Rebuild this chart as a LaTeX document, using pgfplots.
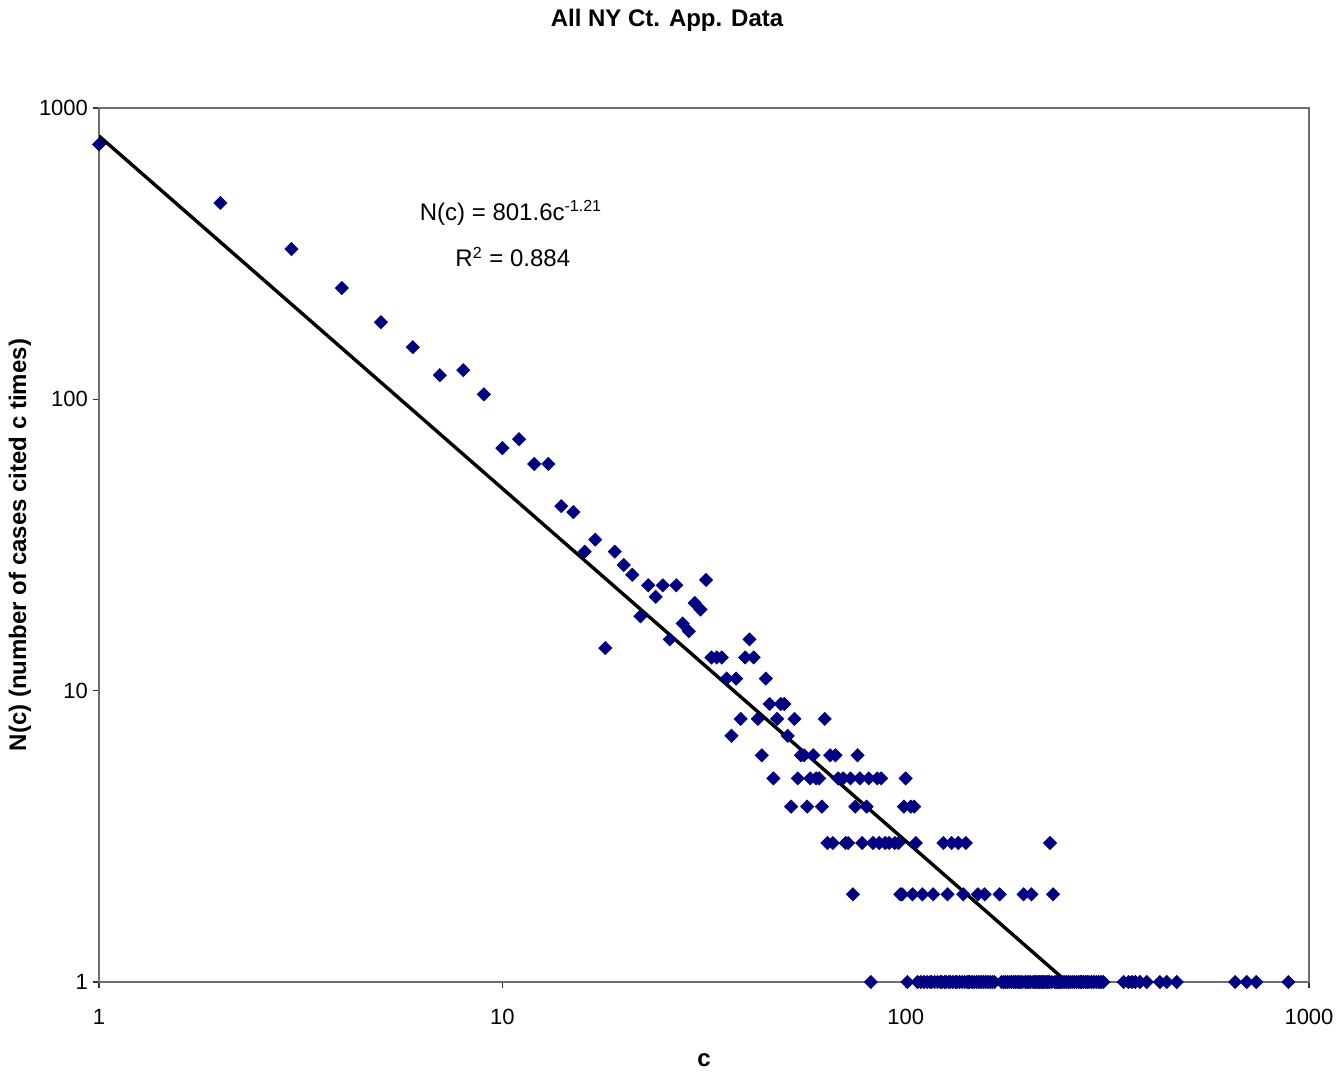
\documentclass[border=0pt]{standalone}
\usepackage{fontspec}
\setmainfont{Liberation Sans}
\usepackage{pgfplots}
\pgfplotsset{compat=1.18}
\definecolor{navy}{RGB}{0,0,128}
\definecolor{axgray}{RGB}{110,110,110}
\begin{document}
\begin{tikzpicture}
\path[use as bounding box] (-49.5pt,-48pt) rectangle (622pt,491pt);
\begin{axis}[
  at={(0,0)}, anchor=south west,
  scale only axis, width=605pt, height=437pt,
  xmode=log, ymode=log,
  xmin=1, xmax=1000, ymin=1, ymax=1000,
  xtick={1,10,100,1000}, xticklabels={1,10,100,1000},
  ytick={1,10,100,1000}, yticklabels={1,10,100,1000},
  xminorticks=false, yminorticks=false,
  xtick pos=bottom, ytick pos=left,
  tick align=outside, major tick length=3pt,
  axis line style={axgray, line width=0.9pt},
  tick style={black!80, line width=0.6pt},
  ticklabel style={font=\fontsize{11}{13}\selectfont},
  xticklabel style={yshift=-7pt},
  yticklabel style={xshift=1pt},
  xlabel={c},
  xlabel style={at={(axis description cs:0.5,-0.089)}, anchor=center, font=\bfseries\fontsize{12}{14}\selectfont},
  ylabel={N(c) (number of cases cited c times)},
  ylabel style={at={(axis description cs:-0.0653,0.5)}, rotate=0, anchor=center, font=\bfseries\fontsize{12}{14}\selectfont},
]
\addplot[only marks, color=navy, mark=square*, mark size=2.3pt, mark options={rotate=45, fill=navy, draw=navy}] coordinates {
(1,750) (2,472) (3,328) (4,241) (5,184) (6,151) (7,121) (8,126) (9,104) (10,68)
(11,73) (12,60) (13,60) (14,43) (15,41) (16,30) (17,33) (18,14) (19,30) (20,27)
(21,25) (22,18) (23,23) (24,21) (25,23) (26,15) (27,23) (28,17) (29,16) (30,20)
(31,19) (32,24) (33,13) (34,13) (35,13) (36,11) (37,7) (38,11) (39,8) (40,13)
(41,15) (42,13) (43,8) (44,6) (45,11) (46,9) (47,5) (48,8) (49,9) (50,9)
(51,7) (52,4) (53,8) (54,5) (55,6) (56,6) (57,4) (58,5) (59,6) (60,5)
(61,5) (62,4) (63,8) (64,3) (65,6) (66,3) (67,6) (68,5) (70,5) (71,3)
(72,3) (73,5) (74,2) (75,4) (76,6) (77,5) (78,3) (80,4) (81,5) (82,1)
(83,3) (85,5) (86,3) (87,5) (89,3) (91,3) (94,3) (96,3) (97,2) (98,2)
(99,4) (100,5) (101,1) (103,4) (104,2) (105,4) (106,3) (110,2) (117,2) (124,3)
(127,2) (130,3) (135,3) (139,2) (141,3) (151,2) (157,2) (171,2) (196,2) (205,2)
(228,3) (232,2)
(107,1) (109,1) (111,1) (113,1) (115,1) (116,1) (118,1) (120,1) (122,1) (123,1)
(125,1) (126,1) (128,1) (129,1) (131,1) (133,1) (134,1) (136,1) (138,1) (140,1)
(142,1) (143,1) (144,1) (146,1) (148,1) (150,1) (152,1) (154,1) (156,1) (158,1)
(160,1) (162,1) (164,1) (166,1) (173,1) (175,1) (177,1) (179,1) (181,1) (183,1)
(185,1) (187,1) (189,1) (191,1) (193,1) (195,1) (198,1) (200,1) (202,1) (204,1)
(207,1) (209,1) (211,1) (213,1) (215,1) (217,1) (219,1) (221,1) (223,1) (225,1)
(227,1) (230,1) (234,1) (236,1) (238,1) (240,1) (242,1) (244,1) (247,1) (250,1)
(253,1) (256,1) (259,1) (262,1) (265,1) (268,1) (271,1) (273,1) (276,1) (279,1)
(282,1) (285,1) (289,1) (293,1) (297,1) (301,1) (305,1) (309,1)
(347,1) (357,1) (364,1) (371,1) (381,1) (396,1) (427,1) (444,1) (470,1)
(656,1) (701,1) (740,1) (889,1)
};
\addplot[black, line width=1.7pt, no marks] coordinates {(1,801.6) (251.2,1)};
\node[font=\fontsize{12}{14}\selectfont, anchor=center] at (rel axis cs:0.3405,0.88) {N(c) = 801.6c\textsuperscript{-1.21}};
\node[font=\fontsize{12}{14}\selectfont, anchor=center] at (rel axis cs:0.342,0.8295) {R\textsuperscript{2} = 0.884};
\end{axis}
\node[font=\bfseries\fontsize{12}{14}\selectfont, anchor=center] at (284pt,481pt) {All NY Ct. App. Data};
\end{tikzpicture}
\end{document}
